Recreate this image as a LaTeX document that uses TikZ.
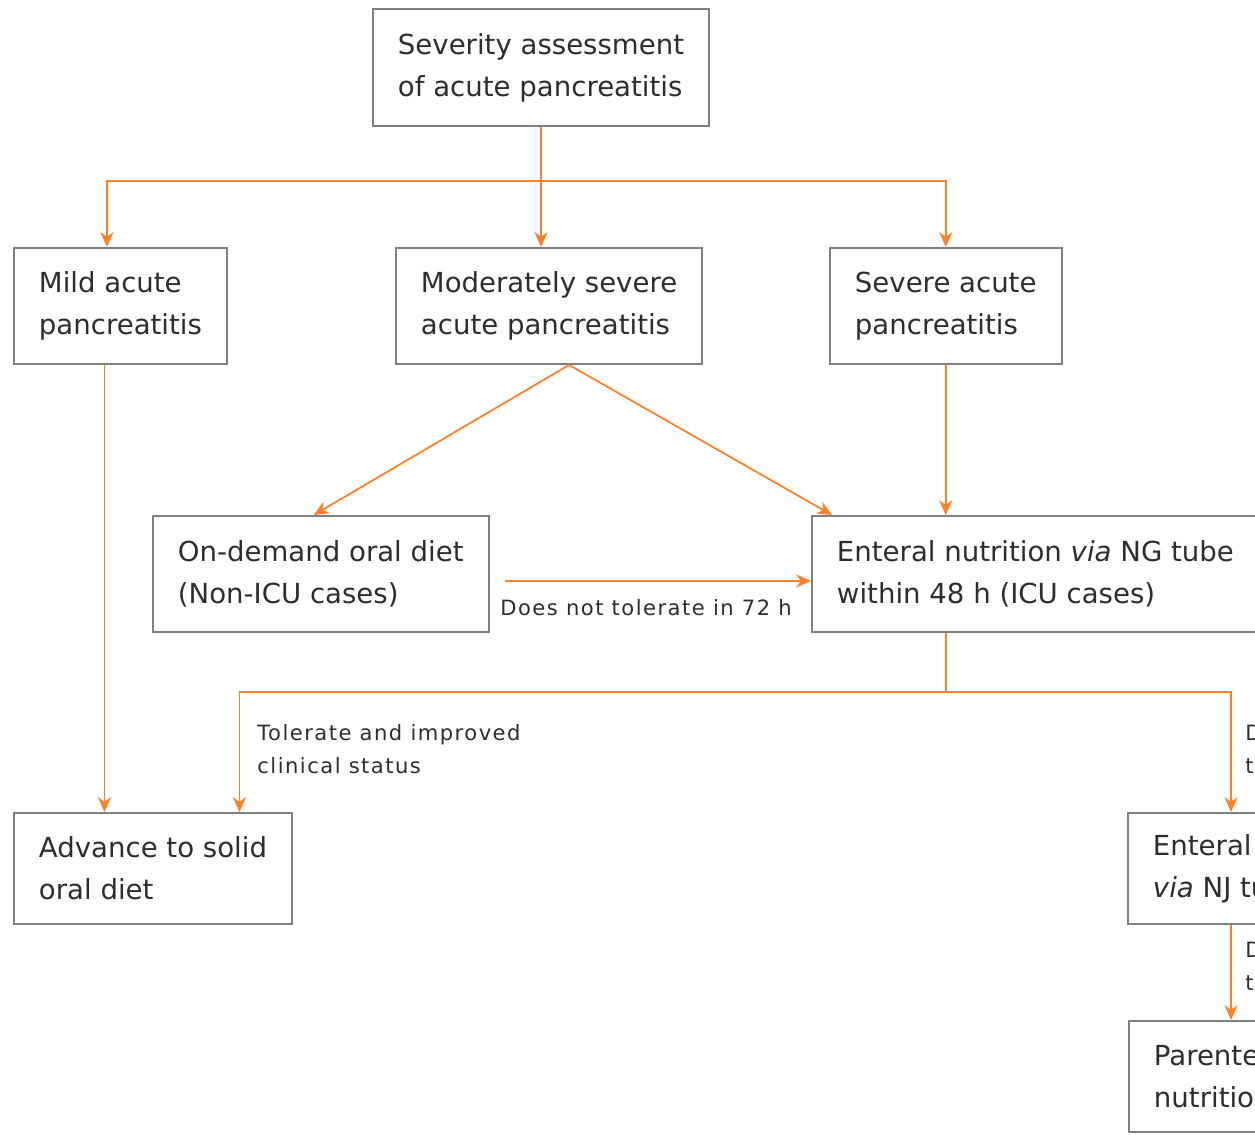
\documentclass[tikz,border=0pt]{standalone}
\usepackage{fontspec}
\setmainfont{DejaVu Sans}
\newfontfamily\labelfont[LetterSpace=7]{DejaVu Sans}
\usetikzlibrary{positioning,arrows.meta}

\definecolor{flow}{RGB}{255,128,40}
\definecolor{frame}{RGB}{128,128,128}
\definecolor{ink}{RGB}{45,45,45}

\begin{document}
\begin{tikzpicture}[
    x=0.02cm, y=-0.02cm,
    >={Stealth[length=8.5pt,width=7.5pt]},
    box/.style={
        draw=frame,
        line width=1.1pt,
        anchor=north west,
        align=left,
        inner xsep=0.5cm,
        minimum height=2.32cm,
        text=ink,
        font=\fontsize{15.7}{23.9}\selectfont
    },
    lowbox/.style={
        box,
        minimum height=2.22cm
    },
    lbl/.style={
        anchor=west,
        inner sep=0pt,
        align=left,
        text=ink,
        font=\labelfont\fontsize{12}{18.8}\selectfont
    },
    arrow/.style={
        ->,
        line width=1pt,
        draw=flow
    }
]

% Frame (the right side is cut off)
\useasboundingbox (0,0) rectangle (1255,1134);
\clip (0,0) rectangle (1255,1134);

% Top
\node[box, minimum height=2.34cm] (sev) at (372,8) {Severity assessment\\of acute pancreatitis};

% Severity classes
\node[box] (mild) at (13,247) {Mild acute\\pancreatitis};
\node[box] (mod) at (395,247) {Moderately severe\\acute pancreatitis};
\node[box] (severe) at (829,247) {Severe acute\\pancreatitis};

% Initial feeding
\node[box] (oral) at (152,515) {On-demand oral diet\\(Non-ICU cases)};
\node[box] (ng) at (811,515) {Enteral nutrition \textit{via} NG tube\\within 48 h (ICU cases)};

% Later steps
\node[lowbox] (solid) at (13,812) {Advance to solid\\oral diet};
\node[lowbox] (nj) at (1127,812) {Enteral nutrition\\\textit{via} NJ tube};
\node[lowbox] (pn) at (1128,1020) {Parenteral\\nutrition};

% Arrows from the assessment
\coordinate (fork) at (538,181);
\draw[arrow] (sev.south) -- (sev.south |- mod.north);
\draw[arrow] (fork) -| ([xshift=-0.27cm]mild.north);
\draw[arrow] (fork) -| (severe.north);

% Arrows to the feeding boxes
\draw[arrow] ([xshift=0.4cm]mod.south) -- ([xshift=-0.14cm]oral.north);
\draw[arrow] ([xshift=0.4cm]mod.south) -- ([xshift=0.42cm]ng.north west);
\draw[arrow] (severe.south) -- (severe.south |- ng.north);
\draw[arrow] ([xshift=-0.32cm]mild.south) -- ([xshift=-0.32cm]mild.south |- solid.north);

% Oral diet not tolerated
\draw[arrow] ([shift={(0.3cm,-0.14cm)}]oral.east) -- ([yshift=-0.14cm]oral.east -| ng.west);
\node[lbl] (notol) at (500,608) {Does not tolerate in 72 h};

% After NG feeding
\coordinate (join) at (severe.south |- 0,692);
\draw[line width=1pt, draw=flow] (severe.south |- ng.south) -- (join);
\draw[arrow] (join) -| ([xshift=1.73cm]solid.north);
\draw[arrow] (join) -| ([xshift=2.08cm]nj.north west);
\draw[arrow] ([xshift=2.08cm]nj.south west) -- ([xshift=2.08cm]nj.south west |- pn.north);

\node[lbl] (tol) at (257,749.5) {Tolerate and improved\\clinical status};
\node[lbl] (ntol1) at (1245,749.5) {Does not\\tolerate};
\node[lbl] (ntol2) at (1245,966.5) {Does not\\tolerate};

\end{tikzpicture}
\end{document}
